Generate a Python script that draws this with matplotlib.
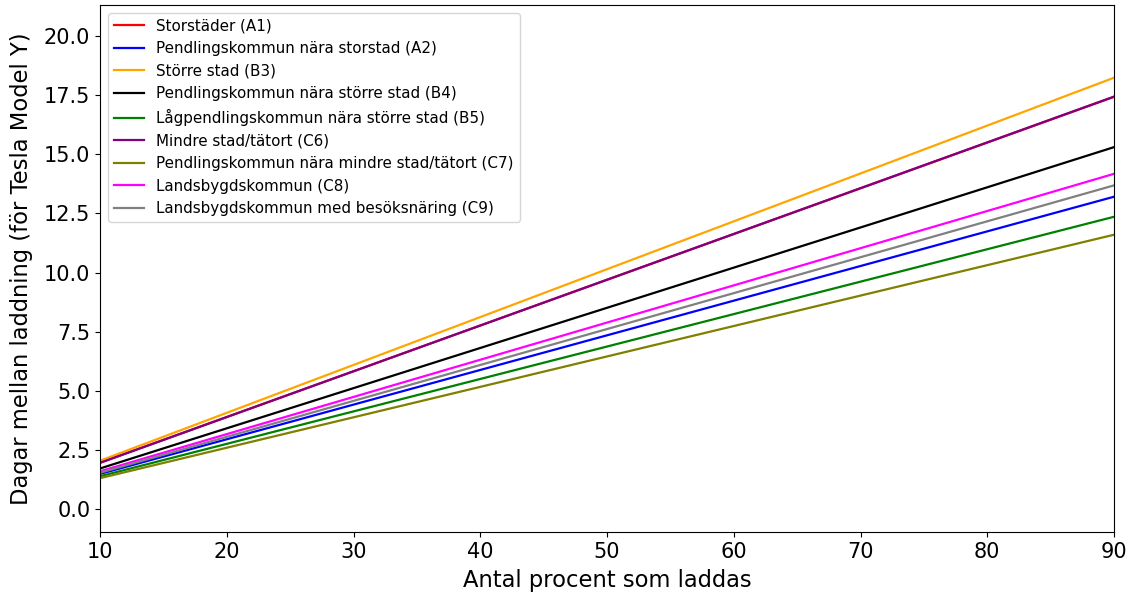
import numpy as np
import matplotlib.pyplot as plt

# procent som laddas (linjerna är raka, två punkter räcker)
procent = [10, 90]

kategorier = [
    "Storstäder (A1)",
    "Pendlingskommun nära storstad (A2)",
    "Större stad (B3)",
    "Pendlingskommun nära större stad (B4)",
    "Lågpendlingskommun nära större stad (B5)",
    "Mindre stad/tätort (C6)",
    "Pendlingskommun nära mindre stad/tätort (C7)",
    "Landsbygdskommun (C8)",
    "Landsbygdskommun med besöksnäring (C9)",
]
farger = ["red", "blue", "orange", "black", "green", "purple", "olive", "magenta", "gray"]

# dagar mellan laddning vid 10 % resp. 90 %
dagar_10 = [1.94, 1.47, 2.03, 1.70, 1.37, 1.94, 1.29, 1.58, 1.52]
dagar_90 = [17.44, 13.21, 18.25, 15.31, 12.36, 17.45, 11.60, 14.18, 13.69]

fig = plt.figure(figsize=(11.33, 5.95), dpi=100)
ax = fig.add_axes([100/1133, 1-532/595, 1014/1133, 527/595])

for namn, c, d10, d90 in zip(kategorier, farger, dagar_10, dagar_90):
    ax.plot(procent, [d10, d90], color=c, label=namn, linewidth=1.6)

ax.set_xlim(10, 90)
ax.set_ylim(-0.99, 21.33)
ax.set_yticks(np.arange(0, 20.1, 2.5))
ax.tick_params(labelsize=15)
ax.set_xlabel("Antal procent som laddas", fontsize=16.3, labelpad=5)
ax.set_ylabel("Dagar mellan laddning (för Tesla Model Y)", fontsize=16.3, labelpad=8)
ax.legend(loc="upper left", fontsize=10.9)

fig.savefig("out.png", dpi=100)
